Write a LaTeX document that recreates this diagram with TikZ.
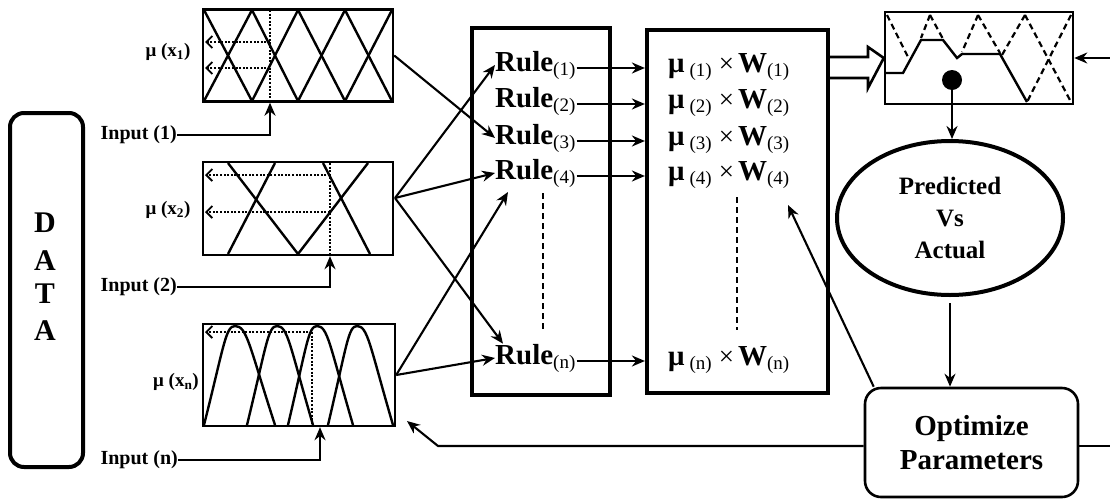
\documentclass[tikz,border=0pt]{standalone}
\usepackage{fontspec}
\setmainfont{Liberation Serif}
\usetikzlibrary{arrows.meta,shapes.geometric}
\newcommand{\lo}[1]{\raisebox{-4pt}{\fontsize{19}{19}\selectfont\mdseries #1}}
\newcommand{\prodtxt}[1]{μ\hspace{5pt}\lo{(#1)}\hspace{7pt}{\mdseries\fontsize{27}{27}\selectfont ×}\hspace{4pt}W\lo{(#1)}}
\begin{document}
\begin{tikzpicture}[x=1pt,y=-1pt,
  arr/.style={line width=2.1pt,-{Stealth[length=13pt,width=11pt]}},
  fz/.style={draw,line width=2.4pt,inner sep=0pt},
  mf/.style={line width=2.4pt},
  dt/.style={line width=2.4pt,dash pattern=on 2pt off 1.6pt},
  dtarr/.style={dt,-{Straight Barb[length=6pt,width=12pt,line width=1.8pt]}},
  big/.style={draw,line width=4.2pt,inner sep=0pt},
  rl/.style={anchor=base west,inner sep=0pt,font=\fontsize{29}{30}\selectfont\bfseries},
  lab/.style={inner sep=0pt,font=\fontsize{20}{22}\selectfont\bfseries},
  mu/.style={inner sep=0pt,font=\fontsize{19}{20}\selectfont\bfseries},
  letter/.style={inner sep=0pt,font=\fontsize{30}{30}\selectfont\bfseries},
  dsh/.style={line width=2.4pt,dash pattern=on 6pt off 4pt}
]
\useasboundingbox (0,0) rectangle (1110,501);

% DATA box
\node[draw,line width=4pt,rounded corners=14pt,minimum width=73pt,minimum height=354pt] (data) at (46.5,290) {};
\node[letter] (d1) at (45,223) {D};
\node[letter] (d2) at (45,261) {A};
\node[letter] (d3) at (45,294) {T};
\node[letter] (d4) at (45,331) {A};

% fuzzy boxes
\node[fz,minimum width=190pt,minimum height=92pt] (b1) at (298,55.5) {};
\node[fz,minimum width=190pt,minimum height=93pt] (b2) at (298,208.5) {};
\node[fz,minimum width=192pt,minimum height=102pt] (b3) at (299,375) {};

% box 1 content
\foreach \a/\b in {204/252,252/298,298/345,345/392}{
  \draw[mf] (\a,10) -- (\b,101);
  \draw[mf] (\a,101) -- (\b,10);
}
\draw[dt] (270,10) -- (270,101);
\draw[dtarr] (270,42) -- (205,42);
\draw[dtarr] (270,68) -- (205,68);

% box 2 content
\draw[mf] (228,163) -- (298,254);
\draw[mf] (275,163) -- (228,254);
\draw[mf] (298,254) -- (368,163);
\draw[mf] (323,163) -- (370,254);
\draw[dt] (330,163) -- (330,254);
\draw[dtarr] (330,175) -- (205,175);
\draw[dtarr] (330,212) -- (205,212);

% box 3 content (bell-like arches)
\foreach \a/\p/\b in {204/235/275,247/277/313,288/317/353,328/357/393}{
  \draw[mf] (\a,425) .. controls ({\a+0.65*(\p-\a)},345) and ({\p-0.3*(\p-\a)},326) .. (\p,326)
                     .. controls ({\p+0.3*(\b-\p)},326) and ({\b-0.65*(\b-\p)},345) .. (\b,425);
}
\draw[dt] (312,332) -- (312,425);
\draw[dtarr] (312,332) -- (205,332);

% mu labels
\node[mu] (m1) at (168,52) {μ (x\textsubscript{1})};
\node[mu] (m2) at (168,210) {μ (x\textsubscript{2})};
\node[mu] (m3) at (176,382) {μ (x\textsubscript{n})};

% inputs
\node[lab,anchor=east] (in1) at (177,135) {Input (1)};
\node[lab,anchor=east] (in2) at (177,287) {Input (2)};
\node[lab,anchor=east] (in3) at (178,460) {Input (n)};
\draw[arr] (in1.east) -| ([xshift=-28pt]b1.south);
\draw[arr] (in2.east) -| ([xshift=32pt]b2.south);
\draw[arr] (in3.east) -| ([xshift=21pt]b3.south);

% rules box
\node[big,minimum width=138pt,minimum height=367pt] (rbox) at (541,211.5) {};
\node[rl] (r1) at (495,71) {Rule\lo{(1)}};
\node[rl] (r2) at (495,107) {Rule\lo{(2)}};
\node[rl] (r3) at (495,144) {Rule\lo{(3)}};
\node[rl] (r4) at (495,179) {Rule\lo{(4)}};
\node[rl] (rn) at (495,364) {Rule\lo{(n)}};
\draw[dsh] (543,193) -- (543,330);

% products box
\node[big,minimum width=181pt,minimum height=363pt] (pbox) at (737.5,211.5) {};
\node[rl] (p1) at (668,72) {\prodtxt{1}};
\node[rl] (p2) at (668,108) {\prodtxt{2}};
\node[rl] (p3) at (668,145) {\prodtxt{3}};
\node[rl] (p4) at (668,180) {\prodtxt{4}};
\node[rl] (pn) at (668,365) {\prodtxt{n}};
\draw[dsh] (737,197) -- (737,330);

% rule -> product arrows
\foreach \r in {r1,r2,r3,r4,rn}{
  \draw[arr] ([xshift=1pt,yshift=3pt]\r.base east) -- ([yshift=3pt]\r.base east -| pbox.west);
}

% fuzzy -> rules
\coordinate (b2o) at (395,198);
\coordinate (free) at (508,192);
\draw[arr] (b1.east) -- (r3.west);
\draw[arr] (b2o) -- (r1.west);
\draw[arr] (b2o) -- (r4.west);
\draw[arr] (b2o) -- ([xshift=8pt]rn.north west);
\draw[arr] (b3.east) -- (rn.west);
\draw[arr] (b3.east) -- (free);

% output box
\node[fz,line width=2.5pt,minimum width=188pt,minimum height=92pt] (obox) at (979,58) {};
\draw[mf] (886,73) -- (903,73) -- (921,40) -- (943,40) -- (957,58) -- (962,54) -- (1000,54) -- (1027,102);
\begin{scope}[line width=2.2pt,dash pattern=on 6pt off 4pt]
\draw (887,15) -- (908,57);
\draw (930,15) -- (921,38);
\draw (930,15) -- (943,39);
\draw (978,15) -- (962,52);
\draw (978,15) -- (1000,53);
\draw (1025,15) -- (1002,55);
\draw (1025,15) -- (1071,102);
\draw (1071,15) -- (1027,102);
\end{scope}

% hollow double arrow
\draw[line width=2.6pt,line join=miter] (pbox.east |- 0,57) -- (868,57) -- (868,47) -- (obox.west) -- (868,88) -- (868,78) -- (pbox.east |- 0,78);

% right input arrow
\coordinate (rin) at (1110,58);
\draw[arr] (rin) -- (obox.east);

% dot and ellipse
\node[circle,fill,minimum size=20pt,inner sep=0pt] (dot) at (952,80) {};
\node[ellipse,draw,line width=4pt,minimum width=226pt,minimum height=154pt,inner sep=0pt,align=center,
  font=\fontsize{25}{32}\selectfont\bfseries] (ell) at (950,218) {Predicted\\Vs\\Actual};
\draw[arr] (dot.south) -- (dot.south |- ell.north);

% optimize
\node[draw,line width=2.6pt,rounded corners=16pt,minimum width=213pt,minimum height=109pt,inner sep=0pt,align=center,
  font=\fontsize{29}{34}\selectfont\bfseries] (opt) at (971.5,442.5) {Optimize\\Parameters};
\draw[arr,shorten <=6pt] (ell.south) -- (ell.south |- opt.north);

% feedback lines
\coordinate (wtip) at (788,205);
\draw[arr] ([xshift=10pt]opt.north west) -- (wtip);
\coordinate (fb1) at (438,446);
\coordinate (fb2) at (407,421);
\draw[arr] ([yshift=-3.5pt]opt.west) -- (fb1) -- (fb2);
\coordinate (rout) at (1110,446);
\draw[line width=2.1pt] ([yshift=-3.5pt]opt.east) -- (rout);
\end{tikzpicture}
\end{document}
